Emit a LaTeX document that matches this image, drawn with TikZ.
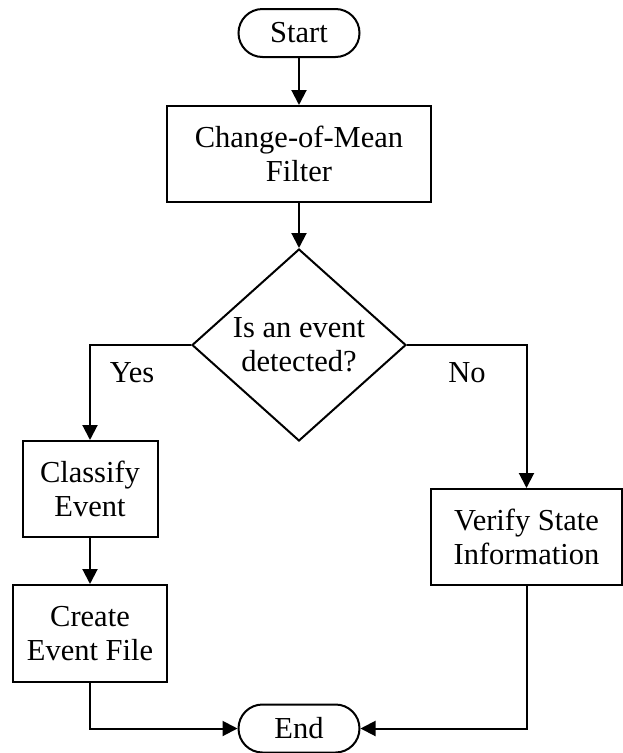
\documentclass[tikz,border=0pt]{standalone}
\usepackage{fontspec}
\setmainfont{Liberation Serif}
\usetikzlibrary{shapes.geometric,arrows.meta}
\tikzset{
  every node/.style={font=\fontsize{30.5}{34}\selectfont, align=center},
  stepbox/.style={draw, line width=2pt, rectangle, inner sep=0pt},
  termbox/.style={draw, line width=2pt, rectangle, rounded corners=24pt, inner sep=0pt, minimum width=121pt, minimum height=48pt},
  decbox/.style={draw, line width=2pt, diamond, inner sep=0pt, minimum width=214pt, minimum height=192pt},
  conn/.style={line width=2pt, -{Triangle[length=15pt,width=15pt]}},
  lbl/.style={inner sep=0pt}
}
\begin{document}
\begin{tikzpicture}[x=1pt,y=-1pt]
\useasboundingbox (0,0) rectangle (623,753);
\node[termbox] (start) at (299,33) {Start};
\node[stepbox, minimum width=264pt, minimum height=96pt] (filter) at (299,154) {Change-of-Mean\\Filter};
\node[decbox] (dec) at (299,345) {Is an event\\detected?};
\node[stepbox, minimum width=135pt, minimum height=96pt] (classify) at (90,489) {Classify\\Event};
\node[stepbox, minimum width=154pt, minimum height=97pt] (create) at (90,633.5) {Create\\Event File};
\node[stepbox, minimum width=191pt, minimum height=96pt] (verify) at (526.5,537) {Verify State\\Information};
\node[termbox] (end) at (299,728.5) {End};
\node[lbl] (yes) at (132,373) {Yes};
\node[lbl] (no) at (467,373) {No};
\draw[conn] (start.south) -- (filter.north);
\draw[conn] (filter.south) -- (dec.north);
\draw[conn] (dec.west) -| (classify.north);
\draw[conn] (dec.east) -| (verify.north);
\draw[conn] (classify.south) -- (create.north);
\draw[conn] (create.south) |- (end.west);
\draw[conn] (verify.south) |- (end.east);
\end{tikzpicture}
\end{document}
